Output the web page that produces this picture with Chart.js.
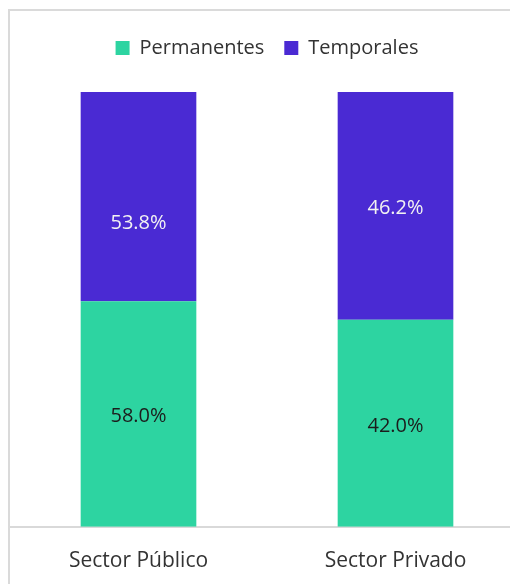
<!DOCTYPE html>
<html>
<head>
<meta charset="utf-8">
<script src="https://cdn.jsdelivr.net/npm/chart.js@4"></script>
<style>
html,body{margin:0;padding:0;background:#fff;overflow:hidden;width:510px;height:584px;}
#box{position:absolute;left:8px;top:9px;width:520px;height:590px;border-left:2px solid #dadada;border-top:2px solid #dadada;}
#wrap{position:absolute;left:0;top:0;width:514px;height:585px;}
</style>
</head>
<body>
<div id="box"><div id="wrap"><canvas id="c"></canvas></div></div>
<script>
const categories = ["Sector Público","Sector Privado"];
const permanentes = [58.0, 42.0];
const temporales = [53.8, 46.2];

// bars are stacked to 100% of each sector's total
const totals = permanentes.map((v,i)=>v+temporales[i]);
const permShare = permanentes.map((v,i)=>v/totals[i]*100);
const tempShare = temporales.map((v,i)=>v/totals[i]*100);
const rawValues = [permanentes, temporales];

const FONT = "'Open Sans', 'Noto Sans', sans-serif";

// the original has the first purple label dragged down a bit
const labelNudge = [[2,3],[27,2]];

const segLabels = {
id:"segLabels",
afterDatasetsDraw(chart){
const c = chart.ctx;
c.save();
c.font = "20px " + FONT;
c.textAlign = "center";
c.textBaseline = "middle";
chart.data.datasets.forEach((ds,di)=>{
chart.getDatasetMeta(di).data.forEach((bar,i)=>{
const y = (bar.y + bar.base)/2 + labelNudge[di][i];
c.fillStyle = di === 0 ? "#1c1c1c" : "#f2f2f2";
c.fillText(rawValues[di][i].toFixed(1) + "%", bar.x, y);
});
});
c.restore();
}
};

// extra room under the legend
const legendGap = {
id:"legendGap",
beforeInit(chart){
const fit = chart.legend.fit;
chart.legend.fit = function(){
fit.call(this);
this.height += 24;
};
}
};

new Chart(document.getElementById("c"),{
type:"bar",
data:{
labels:categories,
datasets:[
{label:"Permanentes",data:permShare,backgroundColor:"#2dd4a1"},
{label:"Temporales",data:tempShare,backgroundColor:"#4a2ad3"}
]
},
options:{
responsive:true,
maintainAspectRatio:false,
animation:false,
barPercentage:0.45,
categoryPercentage:1,
layout:{padding:{top:7,left:0,right:0,bottom:0}},
plugins:{
legend:{
position:"top",
labels:{font:{family:FONT,size:20},color:"#333",boxWidth:14,boxHeight:14,padding:20},
},
tooltip:{enabled:false}
},
scales:{
x:{
stacked:true,
grid:{display:false,drawTicks:false},
border:{color:"#d9d9d9",width:2},
ticks:{font:{family:FONT,size:21},color:"#333",padding:22}
},
y:{stacked:true,display:false,min:0,max:100}
}
},
plugins:[segLabels, legendGap]
});
</script>
</body>
</html>
